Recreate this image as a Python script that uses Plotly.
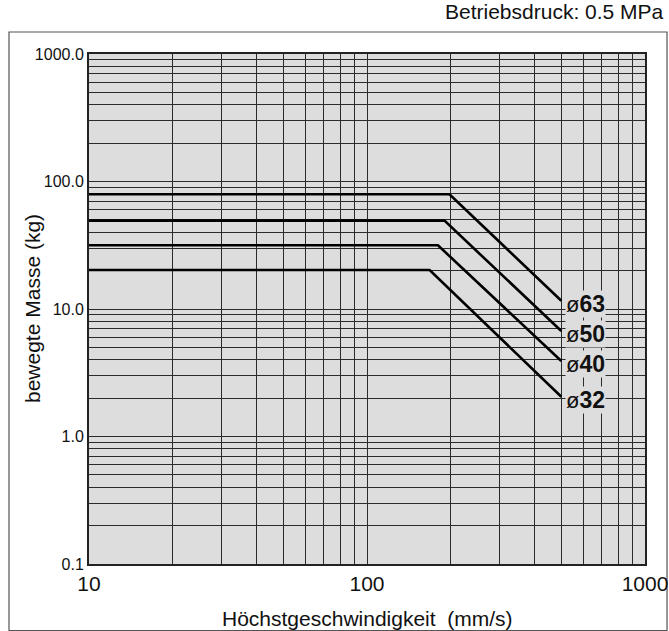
import numpy as np
import plotly.graph_objects as go

# Data (speed in mm/s, mass in kg)
series_names = ["ø63", "ø50", "ø40", "ø32"]
speed_points = [
    [10, 198, 500],
    [10, 190, 500],
    [10, 180, 500],
    [10, 168, 500],
]
mass_points = [
    [79.4, 79.4, 11.6],
    [49.3, 49.3, 6.72],
    [31.6, 31.6, 3.91],
    [20.2, 20.2, 2.05],
]
label_numbers = ["63", "50", "40", "32"]

x_tickvals = [10, 100, 1000]
x_ticktext = ["10", "100", "1000"]
y_tickvals = [0.1, 1, 10, 100, 1000]
y_ticktext = ["0.1", "1.0", "10.0", "100.0", "1000.0"]

x_minor = [m * d for d in (10, 100) for m in range(2, 10)]
y_minor = [m * d for d in (0.1, 1, 10, 100) for m in range(2, 10)]

x_title = "Höchstgeschwindigkeit  (mm/s)"
y_title = "bewegte Masse (kg)"
top_note = "Betriebsdruck: 0.5 MPa"

GRID = "#2a2a2a"
BG = "#dddddd"
FONT = "Liberation Sans, Arial, Helvetica, sans-serif"

fig = go.Figure()
for name, xs, ys in zip(series_names, speed_points, mass_points):
    fig.add_trace(go.Scatter(x=xs, y=ys, mode="lines", name=name,
                             line=dict(color="#000000", width=2.6),
                             showlegend=False, hoverinfo="skip"))

for num, xs, ys in zip(label_numbers, speed_points, mass_points):
    fig.add_annotation(x=np.log10(xs[-1]), y=np.log10(ys[-1]), xref="x", yref="y",
                       text="<span style='font-size:22px'>ø</span><b>" + num + "</b>",
                       showarrow=False,
                       xanchor="left", yanchor="middle", xshift=4, yshift=-3,
                       font=dict(family=FONT, size=23, color="#111"),
                       bgcolor=BG, borderpad=0)

fig.add_annotation(x=1.0, y=1.0, xref="paper", yref="paper",
                   xanchor="right", yanchor="bottom", yshift=29, xshift=21,
                   text=top_note, showarrow=False,
                   font=dict(family=FONT, size=21, color="#111"))

# axis titles
fig.add_annotation(x=0.5, y=-0.1059, xref="paper", yref="paper",
                   xanchor="center", yanchor="middle", text=x_title, showarrow=False,
                   font=dict(family=FONT, size=21, color="#111"))
fig.add_annotation(x=-0.1025, y=0.5, xref="paper", yref="paper", textangle=-90,
                   xanchor="center", yanchor="middle", text=y_title, showarrow=False,
                   font=dict(family=FONT, size=21, color="#111"))

# outer frame
fig.add_shape(type="rect", xref="paper", yref="paper",
              x0=-0.1439, x1=1.0396, y0=-0.1304, y1=1.0431,
              line=dict(color="#555555", width=1.2), fillcolor="rgba(0,0,0,0)", layer="below")

fig.update_xaxes(type="log", range=[1, 3], tickvals=x_tickvals, ticktext=x_ticktext,
                 showgrid=True, gridcolor=GRID, gridwidth=1,
                 minor=dict(tickvals=x_minor, showgrid=True, gridcolor=GRID, gridwidth=1, ticks=""),
                 showline=True, linecolor="#222", linewidth=2, mirror=True, ticks="",
                 zeroline=False, automargin=False,
                 tickfont=dict(family=FONT, size=21, color="#111"))
fig.update_yaxes(type="log", range=[-1, 3], tickvals=y_tickvals, ticktext=y_ticktext,
                 showgrid=True, gridcolor=GRID, gridwidth=1,
                 minor=dict(tickvals=y_minor, showgrid=True, gridcolor=GRID, gridwidth=1, ticks=""),
                 showline=True, linecolor="#222", linewidth=2, mirror=True, ticks="",
                 zeroline=False, automargin=False,
                 tickfont=dict(family=FONT, size=16, color="#111"))

fig.update_layout(width=669, height=631,
                  margin=dict(l=89, r=24, t=54, b=67, autoexpand=False),
                  plot_bgcolor=BG, paper_bgcolor="white",
                  showlegend=False)

fig.write_html("out.html", config={"displayModeBar": False},
               post_script="document.body.style.margin='0';document.body.style.overflow='hidden';")
